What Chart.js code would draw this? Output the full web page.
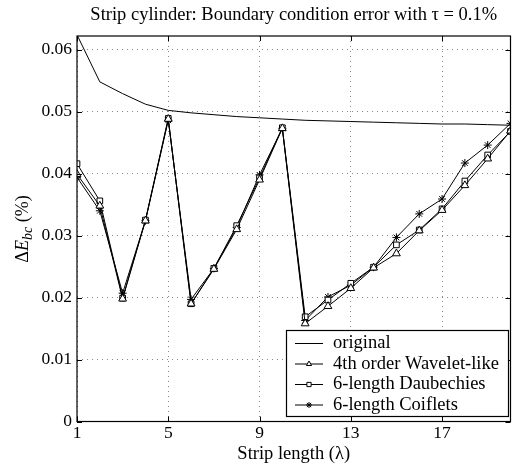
<!DOCTYPE html>
<html>
<head>
<meta charset="utf-8">
<script src="https://cdn.jsdelivr.net/npm/chart.js@4/dist/chart.umd.min.js"></script>
<style>
  html, body { margin: 0; padding: 0; background: #fff; overflow: hidden; }
  #wrap { width: 516px; height: 467px; position: relative; }
</style>
</head>
<body>
<div id="wrap"><canvas id="chart"></canvas></div>
<script>
// ===== Data =====
const stripLength = [1, 2, 3, 4, 5, 6, 7, 8, 9, 10, 11, 12, 13, 14, 15, 16, 17, 18, 19, 20];
const original   = [0.0624, 0.0548, 0.0529, 0.0512, 0.0502, 0.0498, 0.0495, 0.0492, 0.0490, 0.0488,
                    0.0486, 0.0485, 0.0484, 0.0483, 0.0482, 0.0481, 0.0480, 0.0480, 0.0479, 0.0478];
const waveletLike = [0.0399, 0.0348, 0.0198, 0.0324, 0.0488, 0.0190, 0.0246, 0.0310, 0.0390, 0.0473,
                    0.0158, 0.0186, 0.0215, 0.0248, 0.0271, 0.0308, 0.0341, 0.0381, 0.0424, 0.0469];
const daubechies  = [0.0416, 0.0356, 0.0199, 0.0325, 0.0489, 0.0190, 0.0247, 0.0316, 0.0393, 0.0474,
                    0.0169, 0.0196, 0.0223, 0.0249, 0.0285, 0.0309, 0.0343, 0.0388, 0.0430, 0.0468];
const coiflets    = [0.0394, 0.0340, 0.0207, 0.0324, 0.0486, 0.0197, 0.0247, 0.0313, 0.0398, 0.0473,
                    0.0163, 0.0201, 0.0220, 0.0249, 0.0297, 0.0335, 0.0359, 0.0417, 0.0446, 0.0481];
const xTickValues = [1, 5, 9, 13, 17];
const yTickValues = [0, 0.01, 0.02, 0.03, 0.04, 0.05, 0.06];

const SERIF = '"Liberation Serif", "DejaVu Serif", serif';

// ===== Frame, inward ticks, y label, legend =====
const decorations = {
  id: 'decorations',
  afterDatasetsDraw(chart) {
    const { ctx, chartArea: a, scales } = chart;
    ctx.save();
    // frame
    ctx.strokeStyle = '#000';
    ctx.lineWidth = 1.2;
    ctx.strokeRect(a.left, a.top, a.right - a.left, a.bottom - a.top);
    // inward tick marks
    ctx.lineWidth = 1;
    ctx.beginPath();
    xTickValues.forEach(v => {
      const x = Math.round(scales.x.getPixelForValue(v)) + 0.5;
      ctx.moveTo(x, a.bottom); ctx.lineTo(x, a.bottom - 5);
      ctx.moveTo(x, a.top); ctx.lineTo(x, a.top + 5);
    });
    yTickValues.forEach(v => {
      const y = Math.round(scales.y.getPixelForValue(v)) + 0.5;
      ctx.moveTo(a.left, y); ctx.lineTo(a.left + 5, y);
      ctx.moveTo(a.right, y); ctx.lineTo(a.right - 5, y);
    });
    ctx.stroke();

    // y axis label: ΔE_bc (%)
    ctx.translate(28, 229);
    ctx.rotate(-Math.PI / 2);
    ctx.fillStyle = '#000';
    ctx.textBaseline = 'alphabetic';
    const parts = [
      { t: 'Δ', f: '18px ' + SERIF, dy: 0 },
      { t: 'E', f: 'italic 18px ' + SERIF, dy: 0 },
      { t: 'bc', f: 'italic 14px ' + SERIF, dy: 4 },
      { t: ' (%)', f: '18px ' + SERIF, dy: 0 },
    ];
    let total = 0;
    parts.forEach(p => { ctx.font = p.f; p.w = ctx.measureText(p.t).width; total += p.w; });
    let px = -total / 2;
    parts.forEach(p => { ctx.font = p.f; ctx.fillText(p.t, px, p.dy); px += p.w; });
    ctx.restore();

    // legend
    ctx.save();
    const lx = 286, ly = 330, lw = 222, lh = 86;
    ctx.fillStyle = '#fff';
    ctx.fillRect(lx, ly, lw, lh);
    ctx.strokeStyle = '#000';
    ctx.lineWidth = 1.2;
    ctx.strokeRect(lx + 0.5, ly + 0.5, lw, lh);
    const rows = [343.5, 364, 384.5, 405];
    ctx.font = '18.5px ' + SERIF;
    ctx.textBaseline = 'middle';
    chart.data.datasets.forEach((ds, i) => {
      const y = rows[i];
      ctx.strokeStyle = '#000';
      ctx.lineWidth = 1;
      ctx.beginPath();
      ctx.moveTo(295, y); ctx.lineTo(323, y);
      ctx.stroke();
      if (ds.pointStyle && ds.pointRadius > 0) {
        ctx.save();
        ctx.fillStyle = '#fff';
        ctx.strokeStyle = '#000';
        ctx.lineWidth = 1;
        Chart.helpers.drawPoint(ctx, { pointStyle: ds.pointStyle, radius: 3, rotation: 0, borderWidth: 1 }, 309, y);
        ctx.restore();
      }
      ctx.fillStyle = '#000';
      ctx.fillText(ds.label, 333, y);
    });
    ctx.restore();
  }
};

// ===== Chart =====
function series(label, data, style, radius) {
  return {
    label,
    data: data.map((v, j) => ({ x: stripLength[j], y: v })),
    borderColor: '#000',
    borderWidth: 1,
    backgroundColor: '#fff',
    pointStyle: style || false,
    pointRadius: radius || 0,
    pointBorderColor: '#000',
    pointBackgroundColor: '#fff',
    pointBorderWidth: 1,
    tension: 0,
  };
}

new Chart(document.getElementById('chart'), {
  type: 'line',
  data: {
    datasets: [
      series('original', original),
      series('4th order Wavelet-like', waveletLike, 'triangle', 4.5),
      series('6-length Daubechies', daubechies, 'rect', 4),
      series('6-length Coiflets', coiflets, 'star', 4),
    ],
  },
  options: {
    responsive: true,
    maintainAspectRatio: false,
    animation: false,
    layout: { padding: { top: 0, right: 1, left: 0, bottom: 0 } },
    plugins: {
      legend: { display: false },
      tooltip: { enabled: false },
      title: {
        display: true,
        fullSize: false,
        text: 'Strip cylinder: Boundary condition error with τ = 0.1%',
        color: '#000',
        font: { family: SERIF, size: 18.5, weight: 'normal' },
        padding: { top: 4, bottom: 9.8 },
      },
    },
    scales: {
      x: {
        type: 'linear',
        min: 1, max: 20,
        afterBuildTicks: (s) => { s.ticks = xTickValues.map(v => ({ value: v })); },
        afterFit: (s) => { s.height = 45.5; },
        grid: { color: '#888', drawTicks: false },
        border: { display: false, dash: [1, 4] },
        ticks: { color: '#000', font: { family: SERIF, size: 17.5 }, padding: 1, maxRotation: 0 },
        title: {
          display: true, text: 'Strip length (λ)', color: '#000',
          font: { family: SERIF, size: 18.5 }, padding: { top: 0, bottom: 2 },
        },
      },
      y: {
        min: 0, max: 0.0622,
        afterBuildTicks: (s) => { s.ticks = yTickValues.map(v => ({ value: v })); },
        afterFit: (s) => { s.width = 77; },
        grid: { color: '#888', drawTicks: false },
        border: { display: false, dash: [1, 4] },
        ticks: {
          color: '#000', font: { family: SERIF, size: 17.5 }, padding: 5,
          callback: (v) => String(+v.toFixed(2)),
        },
      },
    },
  },
  plugins: [decorations],
});
</script>
</body>
</html>
